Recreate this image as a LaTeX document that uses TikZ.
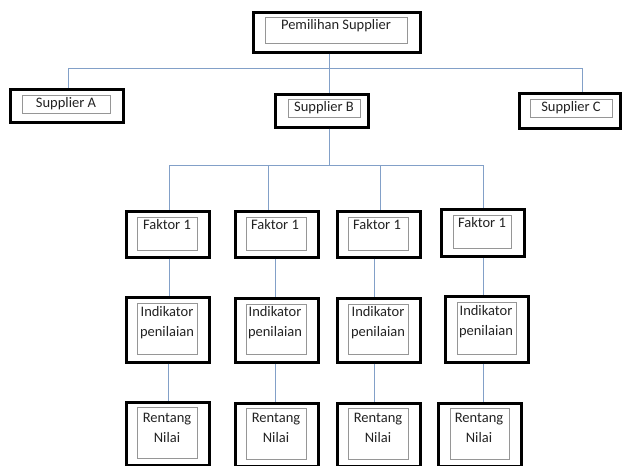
\documentclass[tikz,border=0pt]{standalone}
\usepackage{fontspec}
\setmainfont{Carlito}
\definecolor{conn}{RGB}{130,160,200}
\definecolor{ingray}{RGB}{150,150,150}
\definecolor{txt}{RGB}{35,35,35}
\newcommand\mkbox[9]{%
  \node[obox, minimum width={#4-#2}, minimum height={#5-#3}] (#1) at ({(#2+#4)/2},{(#3+#5)/2}) {};
  \node[ibox, minimum width={#4-#2-#6-#8}, minimum height={#5-#3-#7-#9}] (#1i) at ({(#2+#6+#4-#8)/2},{(#3+#7+#5-#9)/2}) {};
}
\tikzset{
  obox/.style={draw=black, line width=3pt, inner sep=0pt, fill=white},
  ibox/.style={draw=ingray, line width=0.8pt, inner sep=0pt},
  lbl/.style={font=\fontsize{14.5}{20}\selectfont, text=txt, align=center, inner sep=0pt},
  conline/.style={draw=conn, line width=1pt}
}
\begin{document}
\begin{tikzpicture}[x=1pt,y=-1pt]
\useasboundingbox[fill=white] (0,0) rectangle (622,466);
% top level
\mkbox{ps}{253}{12}{420}{52}{12}{5}{13}{9}
\node[lbl] (pst) at (336,26) {Pemilihan Supplier};
\mkbox{sA}{10}{89}{123}{122}{12}{6}{13}{9}
\node[lbl] (sAt) at (66,104) {Supplier A};
\mkbox{sB}{275}{94}{368}{127}{13}{5}{8}{10}
\node[lbl] (sBt) at (324,108) {Supplier B};
\mkbox{sC}{519}{93}{620}{128}{11}{6}{8}{11}
\node[lbl] (sCt) at (571,108) {Supplier C};
% faktor
\mkbox{f1}{126}{211}{209}{257}{11}{6}{12}{7}
\mkbox{f2}{235}{211}{318}{257}{11}{6}{12}{7}
\mkbox{f3}{337}{211}{420}{257}{11}{6}{12}{7}
\mkbox{f4}{441}{209}{524}{256}{12}{6}{13}{8}
\node[lbl] (f1t) at (167,225) {Faktor 1};
\node[lbl] (f2t) at (275,225) {Faktor 1};
\node[lbl] (f3t) at (377,225) {Faktor 1};
\node[lbl] (f4t) at (482,223) {Faktor 1};
% indikator
\mkbox{i1}{126}{297}{209}{362}{11}{6}{12}{8}
\mkbox{i2}{235}{298}{318}{362}{11}{6}{12}{8}
\mkbox{i3}{337}{298}{420}{362}{11}{6}{12}{8}
\mkbox{i4}{445}{296}{528}{362}{12}{6}{12}{8}
\node[lbl] (i1t) at (167,323) {Indikator\\penilaian};
\node[lbl] (i2t) at (275,323) {Indikator\\penilaian};
\node[lbl] (i3t) at (378,323) {Indikator\\penilaian};
\node[lbl] (i4t) at (486,322) {Indikator\\penilaian};
% rentang
\mkbox{r1}{126}{402}{209}{465}{11}{5}{12}{7}
\mkbox{r2}{235}{403}{318}{466}{11}{5}{12}{7}
\mkbox{r3}{337}{403}{420}{466}{11}{5}{12}{7}
\mkbox{r4}{438}{403}{521}{466}{12}{5}{12}{7}
\node[lbl] (r1t) at (167,428) {Rentang\\Nilai};
\node[lbl] (r2t) at (276,428) {Rentang\\Nilai};
\node[lbl] (r3t) at (378,428) {Rentang\\Nilai};
\node[lbl] (r4t) at (479,428) {Rentang\\Nilai};
% connector coordinates
\coordinate (xa) at (68,68);
\coordinate (xb) at (329,68);
\coordinate (xc) at (582,68);
\coordinate (bus2) at (329,165);
\coordinate (y1) at (169,165);
\coordinate (y2) at (268,165);
\coordinate (y3) at (380,165);
\coordinate (y4) at (483,165);
\coordinate (z1) at (169,0);
\coordinate (z2) at (275,0);
\coordinate (z3) at (374,0);
\coordinate (z4) at (483,0);
\coordinate (w1) at (168,0);
% connectors
\draw[conline] (ps.south -| xb) -- (sB.north -| xb);
\draw[conline] (xa) -- (xc);
\draw[conline] (xa) -- (sA.north -| xa);
\draw[conline] (xc) -- (sC.north -| xc);
\draw[conline] (sB.south -| xb) -- (bus2);
\draw[conline] (y1) -- (y4);
\draw[conline] (y1) -- (f1.north -| y1);
\draw[conline] (y2) -- (f2.north -| y2);
\draw[conline] (y3) -- (f3.north -| y3);
\draw[conline] (y4) -- (f4.north -| y4);
\draw[conline] (f1.south -| z1) -- (i1.north -| z1);
\draw[conline] (f2.south -| z2) -- (i2.north -| z2);
\draw[conline] (f3.south -| z3) -- (i3.north -| z3);
\draw[conline] (f4.south -| z4) -- (i4.north -| z4);
\draw[conline] (i1.south -| w1) -- (r1.north -| w1);
\draw[conline] (i2.south -| z2) -- (r2.north -| z2);
\draw[conline] (i3.south -| z3) -- (r3.north -| z3);
\draw[conline] (i4.south -| z4) -- (r4.north -| z4);
\end{tikzpicture}
\end{document}
